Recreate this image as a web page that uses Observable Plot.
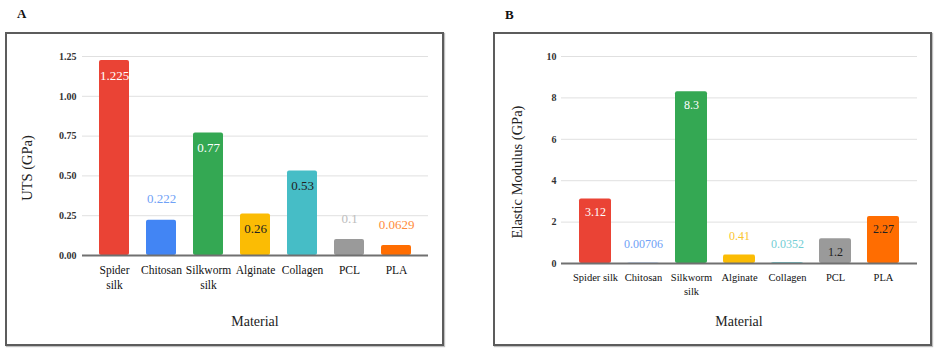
<!DOCTYPE html>
<html>
<head>
<meta charset="utf-8">
<script src="https://cdn.jsdelivr.net/npm/d3@7"></script>
<script src="https://cdn.jsdelivr.net/npm/@observablehq/plot@0.6"></script>
<style>
  html, body { margin: 0; padding: 0; background: #fff; }
  #root { position: relative; width: 937px; height: 358px; overflow: hidden; font-family: "Liberation Serif", "DejaVu Serif", serif; color: #333; }
  .panel { position: absolute; top: 32px; width: 439px; height: 314px; }
  .panel svg { position: absolute; left: 0; top: 0; font-family: "Liberation Serif", "DejaVu Serif", serif; }
  .panel svg text { font-family: "Liberation Serif", "DejaVu Serif", serif; }
  .frame { position: absolute; left: 0; top: 0; right: 0; bottom: 0; border: 2px solid #5c5c5c; box-sizing: border-box; box-shadow: 1px 1px 1px rgba(0,0,0,0.25); pointer-events: none; }
  .tag { position: absolute; font-weight: bold; font-size: 13px; line-height: 13px; color: #111; }
  .ytitle { position: absolute; white-space: nowrap; font-size: 14.5px; color: #222; transform: translate(-50%, -50%) rotate(-90deg); }
  .xtitle { position: absolute; white-space: nowrap; font-size: 14px; color: #222; transform: translate(-50%, -50%); }
</style>
</head>
<body>
<div id="root">
  <div class="tag" style="left:17px; top:7px;">A</div>
  <div class="tag" style="left:505px; top:8px;">B</div>
  <div class="panel" id="panelA" style="left:5px;"><div class="frame"></div></div>
  <div class="panel" id="panelB" style="left:493px;"><div class="frame"></div></div>
  <div class="ytitle" style="left:27px; top:168px;">UTS (GPa)</div>
  <div class="ytitle" style="left:517px; top:172px;">Elastic Modulus (GPa)</div>
  <div class="xtitle" style="left:255px; top:322px;">Material</div>
  <div class="xtitle" style="left:739px; top:322px;">Material</div>
</div>
<script>
const materials = ["Spider silk", "Chitosan", "Silkworm silk", "Alginate", "Collagen", "PCL", "PLA"];
const tickLabelsA = ["Spider\nsilk", "Chitosan", "Silkworm\nsilk", "Alginate", "Collagen", "PCL", "PLA"];
const tickLabelsB = ["Spider silk", "Chitosan", "Silkworm\nsilk", "Alginate", "Collagen", "PCL", "PLA"];

const utsValues = [1.225, 0.222, 0.77, 0.26, 0.53, 0.1, 0.0629];
const utsLabels = ["1.225", "0.222", "0.77", "0.26", "0.53", "0.1", "0.0629"];
const utsLabelInside = [true, false, true, true, true, false, false];
const utsTicks = [0, 0.25, 0.5, 0.75, 1, 1.25];

const modulusValues = [3.12, 0.00706, 8.3, 0.41, 0.0352, 1.2, 2.27];
const modulusLabels = ["3.12", "0.00706", "8.3", "0.41", "0.0352", "1.2", "2.27"];
const modulusLabelInside = [true, false, true, false, false, true, true];
const modulusTicks = [0, 2, 4, 6, 8, 10];

const barColors = ["#ea4335", "#4285f4", "#34a853", "#fbbc04", "#46bdc6", "#9a9a9a", "#ff6d01"];
const outsideLabelColors = ["#f07a70", "#6fa1f6", "#6cc283", "#fbc52e", "#72cdd4", "#bdbdbd", "#ff8c3c"];
const insideLabelColors = ["#ffffff", "#ffffff", "#ffffff", "#222222", "#222222", "#222222", "#222222"];

const font = '"Liberation Serif", "DejaVu Serif", serif';

function makeRows(values, labels, inside) {
  return materials.map((m, i) => ({
    material: m,
    value: values[i],
    label: labels[i],
    inside: inside[i],
    color: barColors[i],
    labelColor: inside[i] ? insideLabelColors[i] : outsideLabelColors[i]
  }));
}

function makeChart(cfg) {
  const rows = makeRows(cfg.values, cfg.labels, cfg.inside);
  return Plot.plot({
    width: 439,
    height: 314,
    marginLeft: cfg.marginLeft,
    marginRight: cfg.marginRight,
    marginTop: 24,
    marginBottom: cfg.marginBottom,
    style: { fontFamily: font, background: "transparent", color: "#222" },
    x: { domain: materials, paddingInner: cfg.paddingInner, paddingOuter: 0.34, label: null },
    y: { domain: cfg.yDomain, label: null },
    color: { type: "identity" },
    marks: [
      Plot.gridY(cfg.ticks, { stroke: "#e0e0e0", strokeOpacity: 1, strokeWidth: 1 }),
      Plot.axisY(cfg.ticks, { tickSize: 0, tickPadding: cfg.yTickPadding, tickFormat: cfg.yFormat, fontSize: 10, fontWeight: "bold", fontFamily: font, color: "#333", label: null }),
      Plot.axisX({ tickSize: 0, tickPadding: 8, tickFormat: d => cfg.tickLabels[materials.indexOf(d)], fontSize: cfg.xFontSize, fontFamily: font, lineHeight: 1.3, color: "#111", label: null }),
      Plot.barY(rows, { x: "material", y: "value", fill: "color", rx: 2 }),
      Plot.ruleY([0], { stroke: "#707070", strokeWidth: 2 }),
      Plot.text(rows.filter(d => d.inside), { x: "material", y: "value", text: "label", fill: "labelColor", dy: cfg.insideDy, fontSize: cfg.labelSize, fontFamily: font }),
      Plot.text(rows.filter(d => !d.inside), { x: "material", y: "value", text: "label", fill: "labelColor", dy: cfg.outsideDy, fontSize: cfg.labelSize, fontFamily: font })
    ]
  });
}

const chartA = makeChart({
  values: utsValues, labels: utsLabels, inside: utsLabelInside, ticks: utsTicks,
  yDomain: [0, 1.25], yFormat: d3.format(".2f"), tickLabels: tickLabelsA,
  marginLeft: 77, marginRight: 16, marginBottom: 91, paddingInner: 0.365,
  yTickPadding: 6, xFontSize: 11.5, labelSize: 13, insideDy: 15, outsideDy: -21
});
const chartB = makeChart({
  values: modulusValues, labels: modulusLabels, inside: modulusLabelInside, ticks: modulusTicks,
  yDomain: [0, 10], yFormat: d3.format("d"), tickLabels: tickLabelsB,
  marginLeft: 68, marginRight: 15, marginBottom: 83, paddingInner: 0.34,
  yTickPadding: 5, xFontSize: 10.5, labelSize: 12, insideDy: 13, outsideDy: -19
});

const pA = document.getElementById("panelA");
pA.insertBefore(chartA, pA.firstChild);
const pB = document.getElementById("panelB");
pB.insertBefore(chartB, pB.firstChild);
</script>
</body>
</html>
